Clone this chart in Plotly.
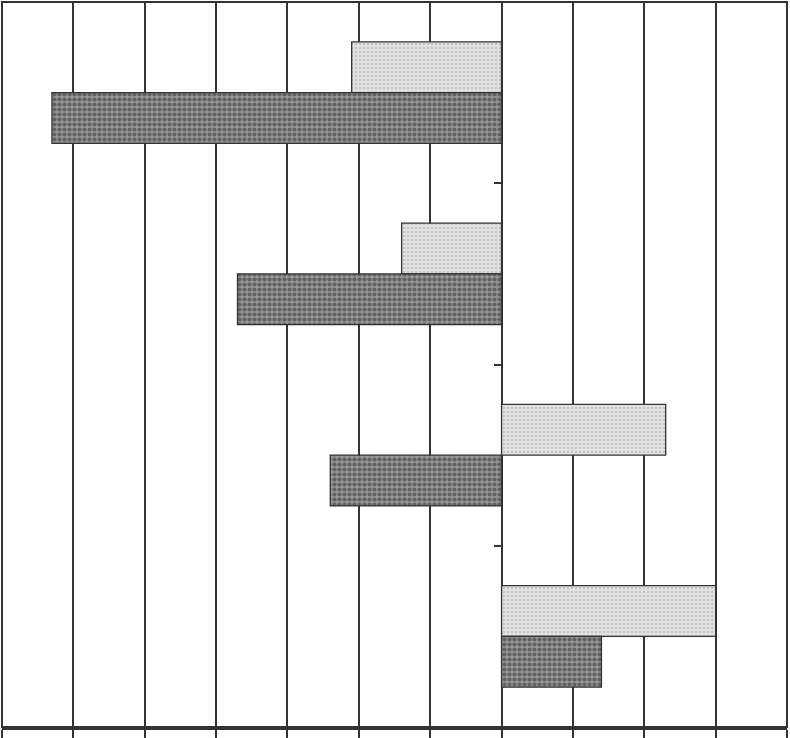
import plotly.graph_objects as go

categories = ["1", "2", "3", "4"]
light_values = [-2.1, -1.4, 2.3, 3.0]
dark_values = [-6.3, -3.7, -2.4, 1.4]
x_tick_values = list(range(-7, 5))

fig = go.Figure()
fig.add_trace(go.Bar(
    y=categories, x=light_values, orientation="h", name="light",
    marker=dict(color="#e0e0e0", line=dict(color="#333333", width=1.3),
                pattern=dict(shape=".", bgcolor="#e3e3e3", fgcolor="#a5a5a5",
                             size=4, solidity=0.35)),
))
fig.add_trace(go.Bar(
    y=categories, x=dark_values, orientation="h", name="dark",
    marker=dict(color="#777777", line=dict(color="#333333", width=1.3),
                pattern=dict(shape=".", bgcolor="#969696", fgcolor="#2e2e2e",
                             size=5, solidity=0.55)),
))

fig.update_layout(
    width=790, height=738,
    margin=dict(l=2, r=3, t=2, b=11, autoexpand=False),
    barmode="group", bargap=0.44, bargroupgap=0,
    showlegend=False,
    paper_bgcolor="white", plot_bgcolor="white",
    xaxis=dict(range=[-7, 4], tickvals=x_tick_values, showticklabels=False,
               showgrid=True, gridcolor="#333333", gridwidth=1.6,
               zeroline=False, automargin=False,
               showline=True, linecolor="#333333", linewidth=2.5,
               ticks="outside", ticklen=10, tickcolor="#333333", tickwidth=1.5),
    yaxis=dict(type="category", autorange="reversed", showticklabels=False,
               showgrid=False, zeroline=False, showline=False, automargin=False,
               anchor="free", position=7/11,
               ticks="outside", tickson="boundaries", ticklen=8,
               tickcolor="#333333", tickwidth=1.5),
)
fig.add_shape(type="rect", xref="paper", yref="paper", x0=0, y0=0, x1=1, y1=1,
              line=dict(color="#333333", width=2), layer="above")

fig.write_html(
    "out.html",
    config={"displayModeBar": False},
    post_script="document.body.style.margin='0';document.body.style.overflow='hidden';",
)
